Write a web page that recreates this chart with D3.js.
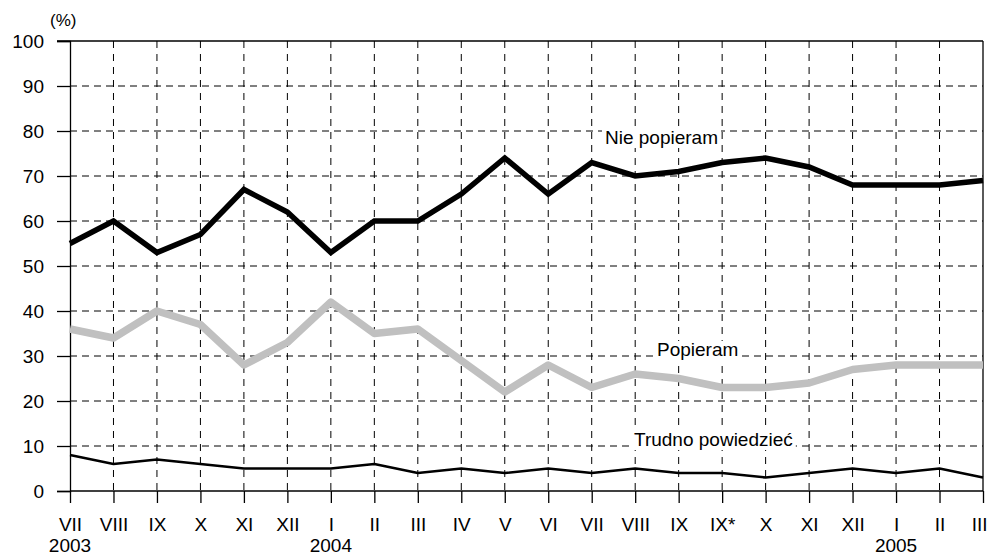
<!DOCTYPE html>
<html>
<head>
<meta charset="utf-8">
<script src="https://cdn.jsdelivr.net/npm/d3@7"></script>
<style>
  body { margin: 0; background: #fff; }
  svg { display: block; font-family: "Liberation Sans", Arial, sans-serif; }
</style>
</head>
<body>
<div id="chart"></div>
<script>
// months on the x axis
let months = ["VII", "VIII", "IX", "X", "XI", "XII", "I", "II", "III", "IV", "V", "VI",
  "VII", "VIII", "IX", "IX*", "X", "XI", "XII", "I", "II", "III"];
// year labels, index into months
let years = [[0, "2003"], [6, "2004"], [19, "2005"]];

let niePopieram = [55, 60, 53, 57, 67, 62, 53, 60, 60, 66, 74, 66, 73, 70, 71, 73, 74, 72, 68, 68, 68, 69];
let popieram = [36, 34, 40, 37, 28, 33, 42, 35, 36, 29, 22, 28, 23, 26, 25, 23, 23, 24, 27, 28, 28, 28];
let trudno = [8, 6, 7, 6, 5, 5, 5, 6, 4, 5, 4, 5, 4, 5, 4, 4, 3, 4, 5, 4, 5, 3];

let yTicks = [0, 10, 20, 30, 40, 50, 60, 70, 80, 90, 100];

let width = 988, height = 555;
let plotLeft = 70, plotRight = 983, plotTop = 41, plotBottom = 491;
let fs = 19;

let svg = d3.select("#chart").append("svg")
  .attr("width", width).attr("height", height);

let x = d3.scalePoint().domain(d3.range(months.length)).range([plotLeft, plotRight]);
let y = d3.scaleLinear().domain([0, 100]).range([plotBottom, plotTop]);

// horizontal dashed grid
svg.append("g").selectAll("line")
  .data(yTicks.filter(d => d > 0 && d < 100))
  .join("line")
  .attr("x1", plotLeft).attr("x2", plotRight)
  .attr("y1", d => y(d)).attr("y2", d => y(d))
  .attr("stroke", "#000").attr("stroke-width", 1)
  .attr("stroke-dasharray", "7,5");

// vertical dashed grid
svg.append("g").selectAll("line")
  .data(d3.range(1, months.length - 1))
  .join("line")
  .attr("x1", d => x(d)).attr("x2", d => x(d))
  .attr("y1", plotTop).attr("y2", plotBottom)
  .attr("stroke", "#000").attr("stroke-width", 1)
  .attr("stroke-dasharray", "7,6");

// y axis
let yAxis = svg.append("g")
  .attr("transform", `translate(${plotLeft},0)`)
  .call(d3.axisLeft(y).tickValues(yTicks).tickSize(13).tickPadding(13));
yAxis.select(".domain").attr("stroke-width", 1.3);
yAxis.selectAll(".tick line").attr("stroke-width", 1.3);
yAxis.selectAll("text").attr("font-size", fs).attr("fill", "#000")
  .attr("font-family", "Liberation Sans, Arial, sans-serif");

// x axis at zero
let xAxis = svg.append("g")
  .attr("transform", `translate(0,${plotBottom})`)
  .call(d3.axisBottom(x).tickSize(12).tickPadding(15).tickFormat(i => months[i]));
xAxis.select(".domain").remove();
xAxis.selectAll(".tick line").attr("stroke-width", 1.3);
xAxis.selectAll("text").attr("font-size", fs).attr("fill", "#000")
  .attr("font-family", "Liberation Sans, Arial, sans-serif");
// last label sits against the right edge
xAxis.selectAll(".tick text").filter(i => i === months.length - 1)
  .attr("text-anchor", "end").attr("x", 4);
svg.append("line")
  .attr("x1", plotLeft).attr("x2", plotRight).attr("y1", plotBottom).attr("y2", plotBottom)
  .attr("stroke", "#000").attr("stroke-width", 1.3);

// frame top and right
svg.append("line")
  .attr("x1", plotLeft - 13).attr("x2", plotRight).attr("y1", plotTop).attr("y2", plotTop)
  .attr("stroke", "#000").attr("stroke-width", 1.3);
svg.append("line")
  .attr("x1", plotRight).attr("x2", plotRight).attr("y1", plotTop).attr("y2", plotBottom)
  .attr("stroke", "#000").attr("stroke-width", 1.3);

// year labels
svg.append("g").selectAll("text")
  .data(years)
  .join("text")
  .attr("x", d => x(d[0])).attr("y", 552)
  .attr("text-anchor", "middle").attr("font-size", fs)
  .text(d => d[1]);

svg.append("text").attr("x", 50).attr("y", 26).attr("font-size", 17).text("(%)");

// lines
let line = d3.line().x((d, i) => x(i)).y(d => y(d));

svg.append("path").datum(popieram)
  .attr("d", line).attr("fill", "none")
  .attr("stroke", "#c0c0c0").attr("stroke-width", 7.5)
  .attr("stroke-linejoin", "round");
svg.append("path").datum(trudno)
  .attr("d", line).attr("fill", "none")
  .attr("stroke", "#000").attr("stroke-width", 2.5)
  .attr("stroke-linejoin", "round");
svg.append("path").datum(niePopieram)
  .attr("d", line).attr("fill", "none")
  .attr("stroke", "#000").attr("stroke-width", 5.5)
  .attr("stroke-linejoin", "miter");

// series labels (white background behind)
let labels = [
  { text: "Nie popieram", x: 605, y: 144 },
  { text: "Popieram", x: 657, y: 356 },
  { text: "Trudno powiedzieć", x: 634, y: 446 }
];
labels.forEach(l => {
  let t = svg.append("text").attr("x", l.x).attr("y", l.y)
    .attr("font-size", fs).text(l.text);
  let b = t.node().getBBox();
  svg.insert("rect", () => t.node())
    .attr("x", b.x - 3).attr("y", b.y + 2).attr("width", b.width + 6).attr("height", b.height - 2)
    .attr("fill", "#fff");
});
</script>
</body>
</html>
